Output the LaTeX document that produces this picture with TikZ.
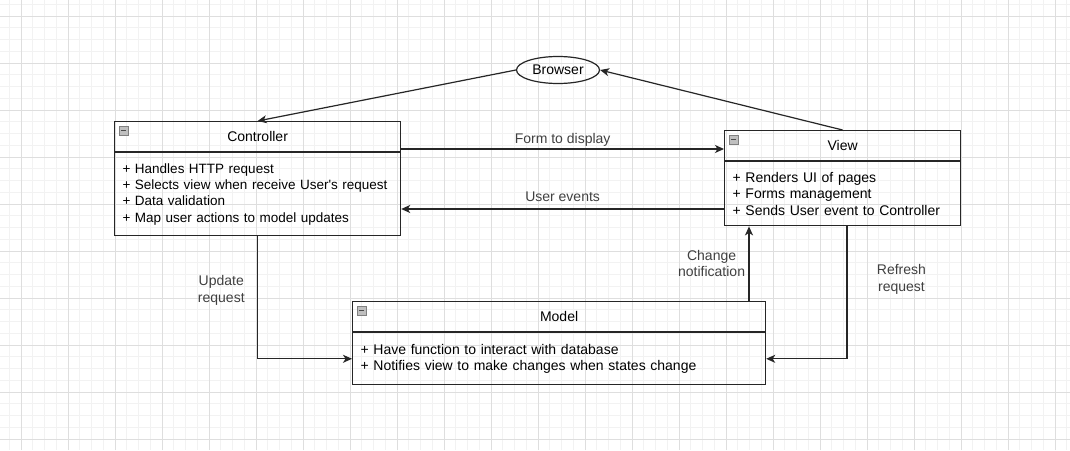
\documentclass[tikz,border=0pt]{standalone}
\usepackage{fontspec}
\setmainfont{Liberation Sans}
\usetikzlibrary{arrows.meta, shapes.geometric}

\definecolor{gridminor}{HTML}{F2F2F2}
\definecolor{gridmajor}{HTML}{DEDEDE}
\definecolor{ink}{HTML}{262626}
\definecolor{labelink}{HTML}{404040}

\tikzset{
  classhead/.style={draw=ink, line width=1.2pt, minimum height=30pt, inner sep=0pt, anchor=north west},
  classbody/.style={draw=ink, line width=1.2pt, inner xsep=8pt, inner ysep=0pt, align=left, anchor=north west},
  conn/.style={draw=ink, line width=1.2pt, -{Stealth[length=9pt, width=8pt, inset=2.5pt]}},
  lbl/.style={text=labelink, align=center},
}

% little collapse mark in the corner of a class header
\newcommand{\foldmark}[1]{%
  \draw[draw=black!50, fill=black!25, line width=0.6pt] ([shift={(5,5)}]#1.north west) rectangle ++(9,9);
  \draw[black!70, line width=1pt] ([shift={(7,9.5)}]#1.north west) -- ++(5,0);
}

\begin{document}
\begin{tikzpicture}[x=1pt, y=-1pt, font=\fontsize{14}{16.5}\selectfont]

    \useasboundingbox[fill=white] (0,0) rectangle (1070,450);
    \begin{scope}[shift={(21,16)}]
        \draw[gridminor, line width=0.8pt, step=11.75pt] (-21,-16) grid (1049,434);
        \draw[gridmajor, line width=0.8pt, step=47pt] (-21,-16) grid (1049,434);
    \end{scope}

    \node[draw=ink, line width=1.2pt, ellipse, inner sep=0pt, minimum width=83pt, minimum height=27pt] (browser) at (558,70) {Browser};

    \node[classhead, minimum width=286pt] (ctrlhead) at (114,121) {Controller};
    \node[classbody, text width=270pt, minimum height=83pt, font=\fontsize{13.5}{16.4}\selectfont] (ctrl) at (ctrlhead.south west)
        {+ Handles HTTP request\\
         \mbox{+ Selects view when receive User\textquotesingle s request}\\
         + Data validation\\
         + Map user actions to model updates};
    \foldmark{ctrlhead}

    \node[classhead, minimum width=236pt] (viewhead) at (724,130) {View};
    \node[classbody, text width=220pt, minimum height=64pt] (view) at (viewhead.south west)
        {+ Renders UI of pages\\
         + Forms management\\
         + Sends User event to Controller};
    \foldmark{viewhead}

    \node[classhead, minimum width=413pt] (modelhead) at (352,301) {Model};
    \node[classbody, text width=397pt, minimum height=52pt] (model) at (modelhead.south west)
        {+ Have function to interact with database\\
         + Notifies view to make changes when states change};
    \foldmark{modelhead}

    \coordinate (formy) at (0,149);
    \coordinate (eventy) at (0,209);
    \coordinate (notifyx) at (749,0);
    \coordinate (refreshx) at (847,0);

    \draw[conn] (browser.west) -- (ctrlhead.north);
    \draw[conn] (viewhead.north) -- (browser.east);
    \draw[conn] (ctrlhead.east |- formy) -- node[lbl, above=-1pt] {Form to display} (viewhead.west |- formy);
    \draw[conn] (view.west |- eventy) -- node[lbl, above=3pt] {User events} (ctrl.east |- eventy);
    \draw[conn] (ctrl.south) |- node[lbl, left=9pt, pos=0.22] {Update\\request} (model.west);
    \draw[conn] (refreshx |- view.south) |- node[lbl, right=26pt, pos=0.2] {Refresh\\request} (model.east);
    \draw[conn] (notifyx |- modelhead.north) -- node[lbl, left] {Change\\notification} (notifyx |- view.south);

\end{tikzpicture}
\end{document}
